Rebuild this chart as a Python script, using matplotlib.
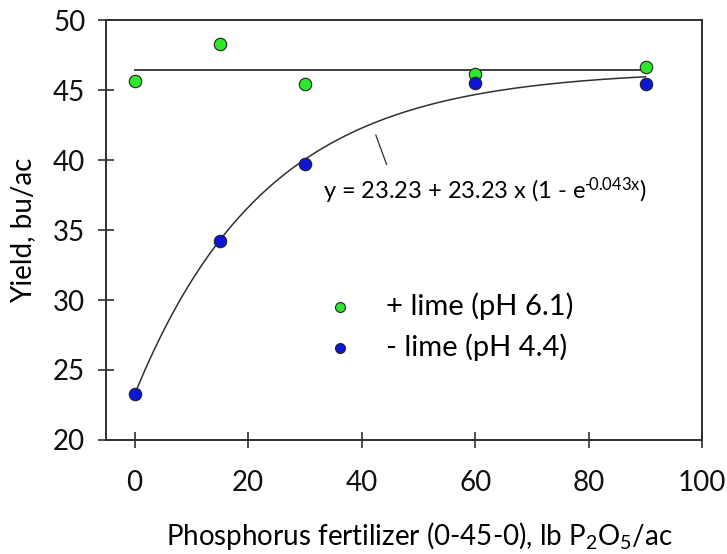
import matplotlib.pyplot as plt
import numpy as np

plt.switch_backend('Agg')

plt.rcParams['font.family'] = ['Lato', 'DejaVu Sans']
plt.rcParams['mathtext.default'] = 'regular'
plt.rcParams['font.size'] = 20

# Data
p_rates = [0, 15, 30, 60, 90]
yield_lime = [45.65, 48.35, 45.45, 46.15, 46.7]
yield_nolime = [23.3, 34.25, 39.7, 45.5, 45.45]

# Fitted models
plateau = 46.45
fit_a, fit_b, fit_c = 23.23, 23.23, 0.043

GREEN = '#2ee82e'
BLUE = '#0b16d8'
LINE = '#303030'

fig = plt.figure(figsize=(7.27, 5.54), dpi=100)
ax = fig.add_axes([0.146, 0.206, 0.82, 0.757])

x_fit = np.linspace(0, 90, 200)
y_fit = fit_a + fit_b * (1 - np.exp(-fit_c * x_fit))
ax.plot([0, 91], [plateau, plateau], color=LINE, lw=1.3, zorder=2)
ax.plot(x_fit, y_fit, color=LINE, lw=1.1, zorder=2)

ax.scatter(p_rates, yield_lime, s=80, color=GREEN, edgecolor='#222222',
           linewidth=0.8, zorder=3, label='+ lime (pH 6.1)')
ax.scatter(p_rates, yield_nolime, s=80, color=BLUE, edgecolor='#222222',
           linewidth=0.8, zorder=3, label='- lime (pH 4.4)')

# equation with a leader line to the curve
ax.plot([42.5, 44.4], [41.8, 39.7], color=LINE, lw=0.9)
ax.text(33.2, 37.8, 'y = 23.23 + 23.23 x (1 - e$^{\u2010\\!0.043x}$)',
        fontsize=17, va='center', ha='left')

ax.set_xlim(-5, 100)
ax.set_ylim(20, 50)
ax.set_xticks([0, 20, 40, 60, 80, 100])
ax.set_yticks([20, 25, 30, 35, 40, 45, 50])
ax.tick_params(direction='inout', length=12, width=1.2, colors=LINE,
               labelcolor='#111111', labelsize=20)
ax.tick_params(axis='x', pad=16)
ax.tick_params(axis='y', pad=9)
for sp in ax.spines.values():
    sp.set_color(LINE)
    sp.set_linewidth(1.4)

ax.set_xlabel(r'Phosphorus fertilizer (0-45-0), lb P$_2$O$_5$/ac', fontsize=20,
              labelpad=17, x=0.525)
ax.set_ylabel('Yield, bu/ac', fontsize=20, labelpad=12)

ax.legend(loc='center left', bbox_to_anchor=(0.30, 0.27), frameon=False,
          handletextpad=0.55, labelspacing=0.45, fontsize=21, markerscale=0.8)

fig.savefig('out.png', dpi=100, facecolor='white')
